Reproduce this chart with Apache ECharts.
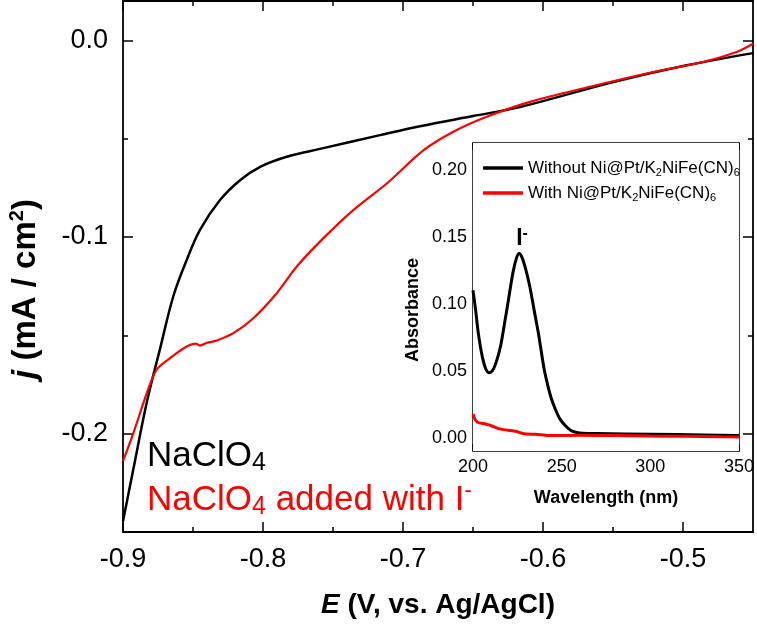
<!DOCTYPE html>
<html>
<head>
<meta charset="utf-8">
<script src="https://cdn.jsdelivr.net/npm/echarts@6/dist/echarts.min.js"></script>
<style>html,body{margin:0;padding:0;background:#fff;}#c{width:757px;height:624px;}</style>
</head>
<body>
<div id="c"></div>
<script>
// ---- main chart data ----
const blackE = [-0.9,-0.8926,-0.883,-0.8736,-0.864,-0.8545,-0.845,-0.8307,-0.8164,-0.802,-0.783,-0.7593,-0.7164,-0.6879,-0.65,-0.6164,-0.5498,-0.4974,-0.45];
const blackJ = [-0.2445,-0.218,-0.184,-0.157,-0.130,-0.1117,-0.0964,-0.0812,-0.0711,-0.0643,-0.0592,-0.0552,-0.0482,-0.0437,-0.0385,-0.0339,-0.0212,-0.0127,-0.0065];
const redE = [-0.9,-0.8926,-0.883,-0.876,-0.8664,-0.8545,-0.848,-0.845,-0.84,-0.833,-0.8212,-0.8069,-0.7902,-0.776,-0.757,-0.7355,-0.7116,-0.6855,-0.664,-0.6402,-0.6093,-0.5688,-0.5212,-0.4855,-0.4617,-0.45];
const redJ = [-0.214,-0.1997,-0.1794,-0.1675,-0.1616,-0.1557,-0.1542,-0.1552,-0.1538,-0.1526,-0.1489,-0.1413,-0.1286,-0.1151,-0.1007,-0.0863,-0.0728,-0.0560,-0.0465,-0.0389,-0.0313,-0.0240,-0.0161,-0.0110,-0.0059,-0.0017];
const mainXTicks = [-0.9,-0.8,-0.7,-0.6,-0.5];
const mainXMinor = [-0.85,-0.75,-0.65,-0.55];
const mainYTicks = [-0.2,-0.1,0.0];
const mainYMinor = [-0.15,-0.05];

// ---- inset data ----
const insetBlackW = [200,201.5,203,205,207,209,211,213,215.5,218,220,222.5,224.5,226,227.5,229.5,232,234.5,237,240,242,244,246.5,249,252,255,258,262,270,300,330,350];
const insetBlackA = [0.110,0.095,0.078,0.062,0.052,0.0485,0.050,0.056,0.068,0.087,0.103,0.123,0.134,0.1375,0.135,0.127,0.113,0.095,0.077,0.052,0.040,0.030,0.021,0.014,0.009,0.0055,0.0040,0.0032,0.0030,0.0025,0.0020,0.0015];
const insetRedW = [200,201,202.5,206,209,212,215,220,224,227,230,235,243,260,280,300,320,340,350];
const insetRedA = [0.0177,0.0140,0.0115,0.0105,0.0095,0.0080,0.0065,0.0055,0.0047,0.0035,0.0027,0.0025,0.0015,0.0018,0.0015,0.0012,0.0010,0.0006,0.0005];
const insetXTicks = [200,250,300,350];
const insetXMinor = [225,275,325];
const insetYTicks = [0,0.05,0.10,0.15,0.20];
const insetYMinor = [0.025,0.075,0.125,0.175];

const zip = (a,b) => a.map((v,i)=>[v,b[i]]);
const FF = 'Liberation Sans, Arial, sans-serif';

function ax(grid, min, max, pos, ticks, len, labels, extra) {
  const o = {
    type:'value', gridIndex:grid, min:min, max:max, position:pos,
    splitLine:{show:false},
    axisLine:{show:!!extra.line, onZero:false, lineStyle:{color:'#000', width:extra.lw||1.8}},
    axisTick:{show:true, inside:true, length:len, customValues:ticks, lineStyle:{color:'#000', width:extra.tw||1.5}},
    axisLabel:labels ? {show:true, customValues:ticks, formatter:labels, color:'#000', fontFamily:FF, fontSize:extra.fs, margin:extra.margin} : {show:false}
  };
  if (extra.name) Object.assign(o, extra.name);
  return o;
}

const xAxes = [
  ax(0,-0.9,-0.45,'bottom',mainXTicks,10,v=>v.toFixed(1),{line:true,fs:27,margin:14,
    name:{name:'{i|E} (V, vs. Ag/AgCl)', nameLocation:'middle', nameGap:59,
      nameTextStyle:{color:'#000', fontFamily:FF, fontSize:28, fontWeight:'bold', rich:{i:{fontFamily:FF,fontSize:28,fontWeight:'bold',fontStyle:'italic',color:'#000'}}}}}),
  ax(0,-0.9,-0.45,'bottom',mainXMinor,5,null,{}),
  ax(0,-0.9,-0.45,'top',mainXTicks,10,null,{line:true}),
  ax(0,-0.9,-0.45,'top',mainXMinor,5,null,{}),
  ax(1,200,350,'bottom',insetXTicks,7,v=>String(v),{line:true,lw:1.5,fs:18,margin:7,
    name:{name:'Wavelength (nm)', nameLocation:'middle', nameGap:38,
      nameTextStyle:{color:'#000', fontFamily:FF, fontSize:18, fontWeight:'bold'}}}),
  ax(1,200,350,'bottom',insetXMinor,4,null,{}),
  ax(1,200,350,'top',insetXTicks,7,null,{line:true,lw:1.5}),
  ax(1,200,350,'top',insetXMinor,4,null,{})
];
const yAxes = [
  ax(0,-0.25,0.02,'left',mainYTicks,10,v=>v.toFixed(1),{line:true,fs:27,margin:15}),
  ax(0,-0.25,0.02,'left',mainYMinor,5,null,{}),
  ax(0,-0.25,0.02,'right',mainYTicks,10,null,{line:true}),
  ax(0,-0.25,0.02,'right',mainYMinor,5,null,{}),
  ax(1,-0.01,0.22,'left',insetYTicks,7,v=>v.toFixed(2),{line:true,lw:1.5,fs:18,margin:6}),
  ax(1,-0.01,0.22,'left',insetYMinor,4,null,{}),
  ax(1,-0.01,0.22,'right',insetYTicks,7,null,{line:true,lw:1.5}),
  ax(1,-0.01,0.22,'right',insetYMinor,4,null,{})
];

const chart = echarts.init(document.getElementById('c'), null, {renderer:'canvas'});
chart.setOption({
  animation:false,
  backgroundColor:'#fff',
  grid:[
    {left:123, right:4, top:1, bottom:91, containLabel:false},
    {left:473, right:15, top:143, bottom:173, show:true, backgroundColor:'#fff', borderWidth:0, z:3}
  ],
  xAxis:xAxes,
  yAxis:yAxes,
  legend:{
    orient:'vertical', left:483, top:158, padding:0, itemGap:5, itemWidth:40, itemHeight:3.5, icon:'rect',
    data:['Without','With'],
    formatter:function(n){ return n==='Without' ? 'Without Ni@Pt/K{s|2}NiFe(CN){s|6}' : 'With Ni@Pt/K{s|2}NiFe(CN){s|6}'; },
    textStyle:{color:'#000', fontFamily:FF, fontSize:17, lineHeight:20,
      rich:{s:{fontFamily:FF, fontSize:11, color:'#000', lineHeight:3, verticalAlign:'bottom'}}}
  },
  series:[
    {type:'line', name:'NaClO4', xAxisIndex:0, yAxisIndex:0, data:zip(blackE,blackJ), smooth:0.35, showSymbol:false, symbol:'none', lineStyle:{color:'#000', width:2.5}, z:4},
    {type:'line', name:'NaClO4+I', xAxisIndex:0, yAxisIndex:0, data:zip(redE,redJ), smooth:0.3, showSymbol:false, symbol:'none', lineStyle:{color:'#ff0000', width:2.2}, z:4},
    {type:'line', name:'Without', xAxisIndex:4, yAxisIndex:4, data:zip(insetBlackW,insetBlackA), smooth:0.3, showSymbol:false, symbol:'none', itemStyle:{color:'#000'}, lineStyle:{color:'#000', width:3}, z:5},
    {type:'line', name:'With', xAxisIndex:4, yAxisIndex:4, data:zip(insetRedW,insetRedA), smooth:0.3, showSymbol:false, symbol:'none', itemStyle:{color:'#ff0000'}, lineStyle:{color:'#ff0000', width:3}, z:5}
  ],
  graphic:[
    {type:'text', x:26, y:289, rotation:Math.PI/2, z:10, style:{text:'{i|j}{m| (mA / cm}{p|2}{m|)}', align:'center', verticalAlign:'middle',
      rich:{i:{fontFamily:FF, fontSize:33, fontWeight:'bold', fontStyle:'italic', fill:'#000', lineHeight:38},
            m:{fontFamily:FF, fontSize:33, fontWeight:'bold', fill:'#000', lineHeight:38},
            p:{fontFamily:FF, fontSize:20, fontWeight:'bold', fill:'#000', lineHeight:12, verticalAlign:'top'}}}},
    {type:'text', x:147, y:456, z:10, style:{text:'{m|NaClO}{s|4}', fill:'#000', verticalAlign:'middle', align:'left',
      rich:{m:{fontFamily:FF, fontSize:35, fill:'#000', lineHeight:40}, s:{fontFamily:FF, fontSize:25, fill:'#000', lineHeight:16, verticalAlign:'bottom'}}}},
    {type:'text', x:147, y:500, z:10, style:{text:'{m|NaClO}{s|4}{m| added with I}{p|-}', fill:'#ff0000', verticalAlign:'middle', align:'left',
      rich:{m:{fontFamily:FF, fontSize:35, fill:'#ff0000', lineHeight:40}, s:{fontFamily:FF, fontSize:25, fill:'#ff0000', lineHeight:16, verticalAlign:'bottom'}, p:{fontFamily:FF, fontSize:22, fill:'#ff0000', lineHeight:12, verticalAlign:'top'}}}},
    {type:'text', x:522, y:239, z:10, style:{text:'{b|I}{p|-}', verticalAlign:'middle', align:'center',
      rich:{b:{fontFamily:FF, fontSize:23, fontWeight:'bold', fill:'#000', lineHeight:26}, p:{fontFamily:FF, fontSize:16, fontWeight:'bold', fill:'#000', lineHeight:10, verticalAlign:'top'}}}},
    {type:'text', x:413, y:310, rotation:Math.PI/2, z:10, style:{text:'Absorbance', fill:'#000', fontFamily:FF, fontSize:18, fontWeight:'bold', align:'center', verticalAlign:'middle'}}
  ]
});
</script>
</body>
</html>
